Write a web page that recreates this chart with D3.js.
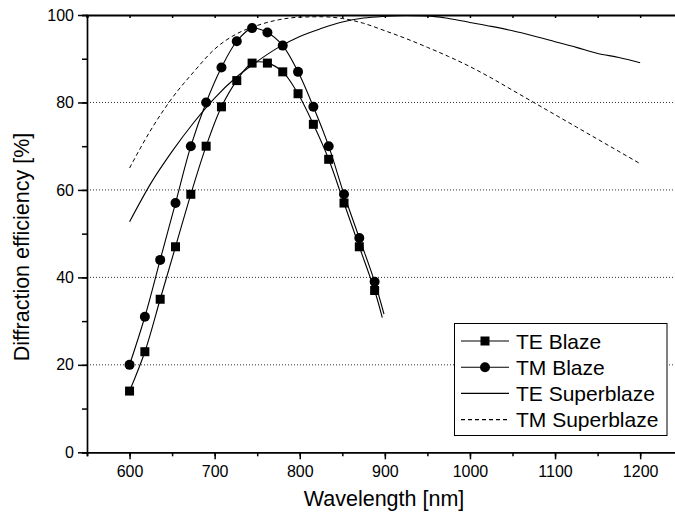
<!DOCTYPE html>
<html>
<head>
<meta charset="utf-8">
<script src="https://cdn.jsdelivr.net/npm/d3@7"></script>
<style>
	body { margin: 0; background: #fff; }
	svg { display: block; font-family: "Liberation Sans", Arial, sans-serif; }
</style>
</head>
<body>
<script>
var blazeWl = [600, 618, 636, 654, 672, 690, 708, 726, 744, 762, 780, 798, 816, 834, 852, 870, 888];
var teBlaze = [14, 23, 35, 47, 59, 70, 79, 85, 89, 89, 87, 82, 75, 67, 57, 47, 37];
var tmBlaze = [20, 31, 44, 57, 70, 80, 88, 94, 97, 96, 93, 87, 79, 70, 59, 49, 39];
var teBlazeEnd = [897, 30.8];
var tmBlazeEnd = [899, 31.6];

var superWl = [600, 625, 650, 675, 700, 725, 750, 775, 800, 825, 850, 875, 900,
	925, 950, 975, 1000, 1025, 1050, 1075, 1100, 1125, 1150, 1175, 1200];
var teSuper = [52.7, 61.5, 68.8, 75.3, 81.0, 85.7, 89.4, 92.6, 95.1, 96.9, 98.4, 99.3, 99.7,
	99.9, 99.8, 99.2, 98.3, 97.4, 96.4, 95.2, 93.9, 92.6, 91.2, 90.3, 89.1];
var tmSuper = [65.0, 73.7, 81.0, 86.9, 92.2, 95.6, 97.6, 98.9, 99.5, 99.6, 99.2, 98.1, 96.4,
	94.6, 92.6, 90.5, 88.2, 85.6, 82.8, 80.0, 77.2, 74.4, 71.6, 68.8, 66.0];

var xTicks = [600, 700, 800, 900, 1000, 1100, 1200];
var yTicks = [0, 20, 40, 60, 80, 100];
var gridValues = [20, 40, 60, 80];
var legendNames = ["TE Blaze", "TM Blaze", "TE Superblaze", "TM Superblaze"];

var width = 675, height = 523;

var svg = d3.select("body")
	.append("svg")
		.attr("width", width)
		.attr("height", height);

var x = d3.scaleLinear().domain([550, 1250]).range([87, 682.7]),
    y = d3.scaleLinear().domain([0, 100]).range([452.3, 15]);

// dotted grid
svg.append("g")
	.selectAll("line")
	.data(gridValues)
	.enter().append("line")
		.attr("x1", x(550))
		.attr("x2", x(1250))
		.attr("y1", function(d) { return y(d); })
		.attr("y2", function(d) { return y(d); })
		.attr("stroke", "#333")
		.attr("stroke-width", 1)
		.attr("stroke-dasharray", "1,2");

var minorX = d3.range(550, 1251, 50);
var minorY = d3.range(0, 101, 10);

function styleAxis(g) {
	g.select(".domain").attr("stroke", "#000").attr("stroke-width", 1.7);
	g.selectAll(".tick line").attr("stroke", "#000").attr("stroke-width", 1.5);
	g.selectAll("text").attr("fill", "#000").style("font-size", "16px")
		.style("font-family", "'Liberation Sans', Arial, sans-serif");
}

svg.append("g")
	.attr("transform", "translate(0," + y(0) + ")")
	.call(d3.axisBottom(x).tickValues(minorX).tickSize(4).tickFormat(""))
	.call(styleAxis);

svg.append("g")
	.attr("transform", "translate(0," + y(0) + ")")
	.call(d3.axisBottom(x).tickValues(xTicks).tickSize(7).tickPadding(6).tickFormat(d3.format("d")))
	.call(styleAxis)
	.call(function(g) { g.select(".domain").remove(); });

svg.append("g")
	.attr("transform", "translate(0," + y(100) + ")")
	.call(d3.axisTop(x).tickValues(minorX).tickSize(-3).tickFormat(""))
	.call(styleAxis)
	.call(function(g) { g.select(".domain").attr("stroke-width", 2); });

svg.append("g")
	.attr("transform", "translate(" + x(550) + ",0)")
	.call(d3.axisLeft(y).tickValues(minorY).tickSize(5).tickFormat(""))
	.call(styleAxis);

svg.append("g")
	.attr("transform", "translate(" + x(550) + ",0)")
	.call(d3.axisLeft(y).tickValues(yTicks).tickSize(9).tickPadding(4))
	.call(styleAxis)
	.call(function(g) { g.select(".domain").remove(); });

svg.append("text")
	.attr("x", 384)
	.attr("y", 506)
	.attr("text-anchor", "middle")
	.style("font-size", "21.5px")
	.text("Wavelength [nm]");

svg.append("text")
	.attr("transform", "translate(28.5,247) rotate(-90)")
	.attr("text-anchor", "middle")
	.style("font-size", "21.5px")
	.text("Diffraction efficiency [%]");

var superLine = d3.line()
	.x(function(d) { return x(d[0]); })
	.y(function(d) { return y(d[1]); })
	.curve(d3.curveMonotoneX);

var blazeLine = d3.line()
	.x(function(d) { return x(d[0]); })
	.y(function(d) { return y(d[1]); })
	.curve(d3.curveCatmullRom.alpha(0.5));

var teSuperData = d3.zip(superWl, teSuper),
    tmSuperData = d3.zip(superWl, tmSuper),
    teBlazeData = d3.zip(blazeWl, teBlaze),
    tmBlazeData = d3.zip(blazeWl, tmBlaze);

svg.append("path")
	.attr("d", superLine(tmSuperData))
	.attr("fill", "none")
	.attr("stroke", "#000")
	.attr("stroke-width", 1)
	.attr("stroke-dasharray", "4,3");

svg.append("path")
	.attr("d", superLine(teSuperData))
	.attr("fill", "none")
	.attr("stroke", "#000")
	.attr("stroke-width", 1.1);

svg.append("path")
	.attr("d", blazeLine(teBlazeData.concat([teBlazeEnd])))
	.attr("fill", "none")
	.attr("stroke", "#000")
	.attr("stroke-width", 1.1);

svg.append("path")
	.attr("d", blazeLine(tmBlazeData.concat([tmBlazeEnd])))
	.attr("fill", "none")
	.attr("stroke", "#000")
	.attr("stroke-width", 1.1);

svg.append("g")
	.selectAll("rect")
	.data(teBlazeData)
	.enter().append("rect")
		.attr("x", function(d) { return x(d[0]) - 4.5; })
		.attr("y", function(d) { return y(d[1]) - 4.5; })
		.attr("width", 9)
		.attr("height", 9)
		.attr("fill", "#000");

svg.append("g")
	.selectAll("circle")
	.data(tmBlazeData)
	.enter().append("circle")
		.attr("cx", function(d) { return x(d[0]); })
		.attr("cy", function(d) { return y(d[1]); })
		.attr("r", 5)
		.attr("fill", "#000");

// legend
var legend = svg.append("g")
	.attr("transform", "translate(454.5,323.5)");

legend.append("rect")
	.attr("width", 212.5)
	.attr("height", 112)
	.attr("fill", "#fff")
	.attr("stroke", "#000")
	.attr("stroke-width", 1);

var rows = legend.selectAll(".row")
	.data(legendNames)
	.enter().append("g")
		.attr("class", "row")
		.attr("transform", function(d, i) { return "translate(0," + (17.5 + i * 26.2) + ")"; });

rows.append("line")
	.attr("x1", 6.5)
	.attr("x2", 54.5)
	.attr("stroke", "#000")
	.attr("stroke-width", 1.1)
	.attr("stroke-dasharray", function(d, i) { return i == 3 ? "4,3" : null; });

rows.filter(function(d, i) { return i == 0; })
	.append("rect")
		.attr("x", 26)
		.attr("y", -4.5)
		.attr("width", 9)
		.attr("height", 9);

rows.filter(function(d, i) { return i == 1; })
	.append("circle")
		.attr("cx", 30.5)
		.attr("r", 5);

rows.append("text")
	.attr("x", 61.5)
	.attr("y", 7.5)
	.style("font-size", "21px")
	.text(function(d) { return d; });
</script>
</body>
</html>
